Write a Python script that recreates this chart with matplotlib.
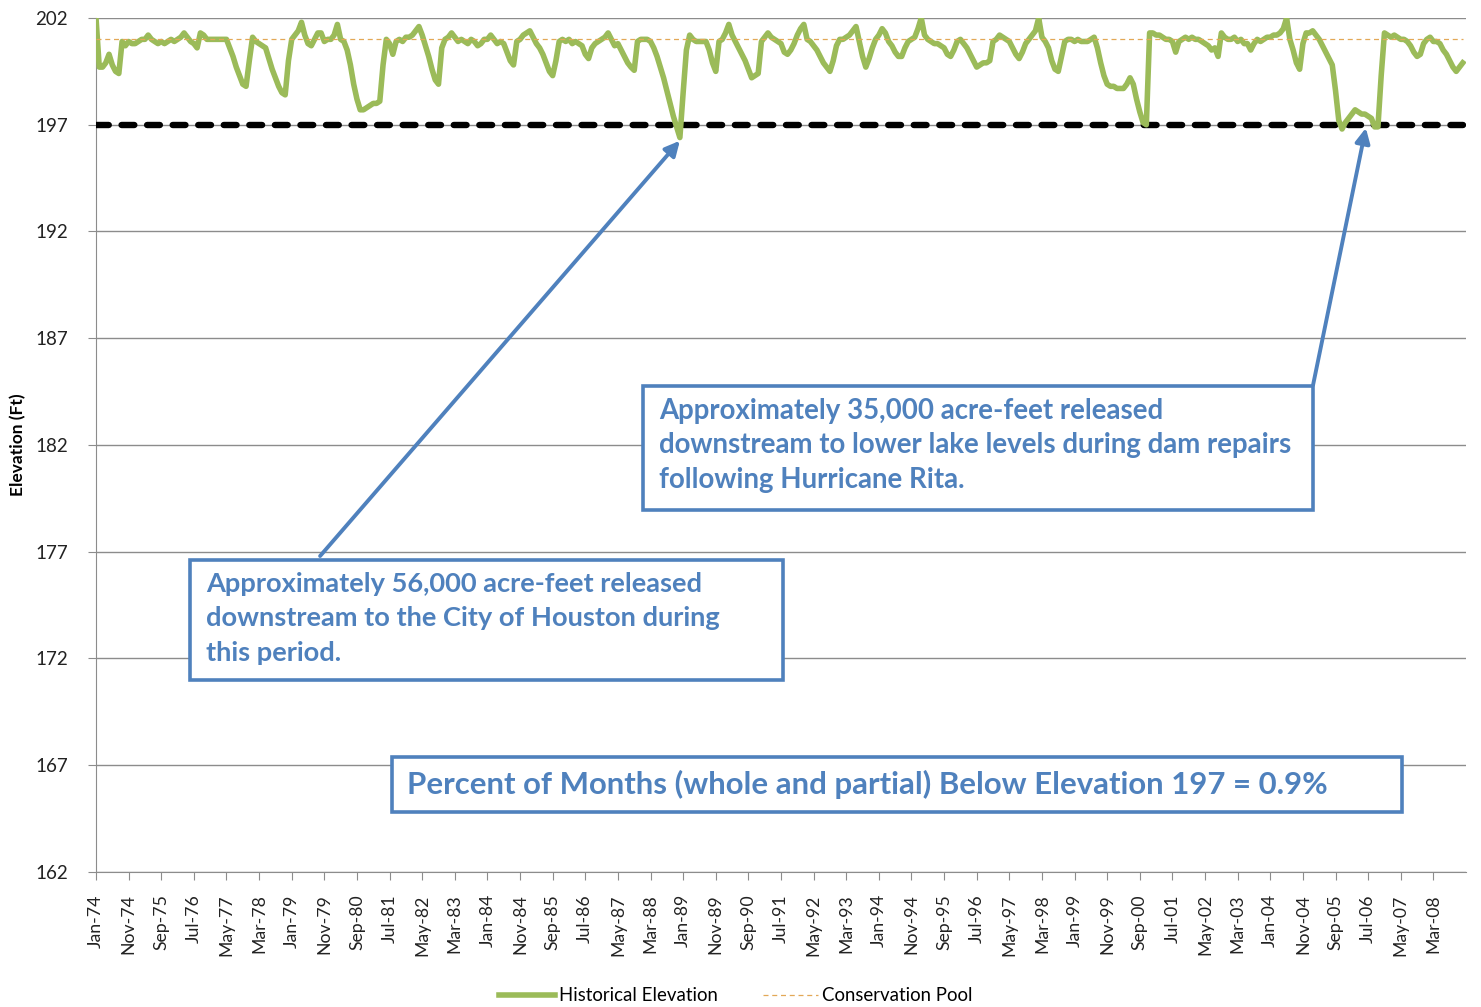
import matplotlib
matplotlib.use("Agg")
import matplotlib.pyplot as plt
from matplotlib.patches import Rectangle

# ---------------- data ----------------
elev_1974_1980 = [
    202.0, 199.7, 199.7, 199.9, 200.3, 199.8, 199.5, 199.4, 200.9, 200.7, 200.9, 200.8,
    200.8, 200.9, 201.0, 201.0, 201.2, 201.0, 200.9, 200.8, 200.9, 200.8, 200.9, 201.0,
    200.9, 201.0, 201.1, 201.3, 201.1, 200.9, 200.8, 200.6, 201.3, 201.2, 201.0, 201.0,
    201.0, 201.0, 201.0, 201.0, 201.0, 200.6, 200.2, 199.7, 199.3, 198.9, 198.8, 200.0,
    201.1, 200.9, 200.8, 200.7, 200.6, 200.1, 199.6, 199.2, 198.8, 198.5, 198.4, 200.0,
    201.0, 201.2, 201.4, 201.8, 201.2, 200.8, 200.7, 201.0, 201.3, 201.3, 200.9, 201.0,
    201.0, 201.2, 201.7, 201.0, 200.9, 200.5, 199.8, 198.9, 198.2, 197.7, 197.7, 197.8,
]
elev_1981_1987 = [
    197.9, 198.0, 198.0, 198.1, 199.8, 201.0, 200.8, 200.3, 200.9, 201.0, 200.9, 201.1,
    201.1, 201.2, 201.4, 201.6, 201.2, 200.7, 200.2, 199.6, 199.1, 198.9, 200.6, 201.0,
    201.1, 201.3, 201.1, 200.9, 201.0, 200.9, 200.8, 201.0, 200.9, 200.7, 200.8, 201.0,
    201.0, 201.2, 201.0, 200.8, 200.9, 200.8, 200.4, 200.0, 199.8, 200.9, 201.0, 201.2,
    201.3, 201.4, 201.1, 200.8, 200.6, 200.3, 199.9, 199.5, 199.3, 200.0, 200.9, 201.0,
    200.9, 201.0, 200.8, 200.9, 200.8, 200.7, 200.3, 200.1, 200.6, 200.8, 200.9, 201.0,
    201.1, 201.3, 201.0, 200.7, 200.8, 200.5, 200.2, 199.9, 199.7, 199.55, 200.9, 201.0,
]
elev_1988_1994 = [
    201.0, 201.0, 200.9, 200.6, 200.2, 199.7, 199.2, 198.6, 198.0, 197.4, 196.9, 196.4,
    198.5, 200.5, 201.2, 201.0, 200.9, 200.9, 200.9, 200.9, 200.5, 199.9, 199.5, 200.9,
    201.0, 201.3, 201.7, 201.2, 200.9, 200.6, 200.3, 200.0, 199.6, 199.2, 199.3, 199.4,
    200.9, 201.1, 201.3, 201.1, 201.0, 200.9, 200.8, 200.4, 200.3, 200.5, 200.8, 201.2,
    201.5, 201.7, 201.0, 200.9, 200.7, 200.5, 200.2, 199.9, 199.7, 199.5, 200.0, 200.7,
    201.0, 201.0, 201.1, 201.2, 201.4, 201.6, 200.9, 200.2, 199.7, 200.1, 200.6, 201.0,
    201.2, 201.5, 201.3, 200.9, 200.7, 200.4, 200.2, 200.2, 200.6, 200.9, 201.0, 201.1,
]
elev_1995_2001 = [
    201.5, 202.0, 201.2, 201.0, 200.9, 200.8, 200.8, 200.7, 200.6, 200.3, 200.2, 200.5,
    200.9, 201.0, 200.8, 200.6, 200.3, 200.0, 199.7, 199.8, 199.9, 199.9, 200.0, 200.9,
    201.0, 201.2, 201.1, 201.0, 200.9, 200.6, 200.3, 200.1, 200.4, 200.8, 201.0, 201.2,
    201.4, 202.0, 201.1, 200.9, 200.6, 200.0, 199.6, 199.5, 200.2, 200.9, 201.0, 201.0,
    200.9, 201.0, 200.9, 200.9, 200.9, 201.0, 201.1, 200.6, 199.9, 199.3, 198.9, 198.8,
    198.8, 198.7, 198.7, 198.7, 198.9, 199.2, 198.9, 198.2, 197.6, 197.1, 197.0, 201.3,
    201.3, 201.2, 201.2, 201.1, 201.0, 201.0, 200.9, 200.4, 200.9, 201.0, 201.1, 201.0,
]
elev_2002_2008 = [
    201.1, 201.0, 201.0, 200.9, 200.8, 200.7, 200.5, 200.6, 200.2, 201.3, 201.1, 201.0,
    201.0, 201.1, 200.9, 201.0, 200.8, 200.8, 200.5, 200.8, 201.0, 200.9, 201.0, 201.1,
    201.1, 201.2, 201.2, 201.3, 201.5, 202.0, 201.0, 200.5, 199.9, 199.6, 200.8, 201.3,
    201.3, 201.4, 201.2, 201.0, 200.7, 200.4, 200.1, 199.8, 198.6, 197.2, 196.8, 197.1,
    197.3, 197.5, 197.7, 197.6, 197.5, 197.5, 197.4, 197.3, 196.9, 196.9, 199.3, 201.3,
    201.2, 201.1, 201.2, 201.1, 201.0, 201.0, 200.9, 200.7, 200.4, 200.2, 200.3, 200.8,
    201.0, 201.1, 200.9, 200.9, 200.8, 200.5, 200.3, 200.0, 199.7, 199.5, 199.7, 199.9,
]
historical_elevation = (elev_1974_1980 + elev_1981_1987 + elev_1988_1994
                        + elev_1995_2001 + elev_2002_2008)
conservation_pool = 201.0
threshold_elevation = 197.0

tick_labels = ["Jan-74", "Nov-74", "Sep-75", "Jul-76", "May-77", "Mar-78", "Jan-79",
               "Nov-79", "Sep-80", "Jul-81", "May-82", "Mar-83", "Jan-84", "Nov-84",
               "Sep-85", "Jul-86", "May-87", "Mar-88", "Jan-89", "Nov-89", "Sep-90",
               "Jul-91", "May-92", "Mar-93", "Jan-94", "Nov-94", "Sep-95", "Jul-96",
               "May-97", "Mar-98", "Jan-99", "Nov-99", "Sep-00", "Jul-01", "May-02",
               "Mar-03", "Jan-04", "Nov-04", "Sep-05", "Jul-06", "May-07", "Mar-08"]
y_ticks = [162, 167, 172, 177, 182, 187, 192, 197, 202]

note_56k = ["Approximately 56,000 acre-feet released",
            "downstream to the City of Houston during",
            "this period."]
note_35k = ["Approximately 35,000 acre-feet released",
            "downstream to lower lake levels during dam repairs",
            "following Hurricane Rita."]
note_pct = "Percent of Months (whole and partial) Below Elevation 197 = 0.9%"

# ---------------- plot ----------------
plt.rcParams['font.family'] = ['Lato', 'DejaVu Sans']

fig = plt.figure(figsize=(14.81, 10.07), dpi=100)
ax = fig.add_axes([96 / 1481, 1 - 872 / 1007, 1370 / 1481, 854 / 1007])

n = len(historical_elevation)
months = list(range(n))

green = '#9BBB59'
blue = '#4F81BD'

for y in y_ticks:
    ax.axhline(y, color='#8C8C8C', lw=1.0, zorder=1)

ax.plot(months, [threshold_elevation] * n, color='black', lw=4.6,
        dashes=(2.0, 2.0), dash_capstyle='round', zorder=3, label='_nolegend_')
ax.plot(months, historical_elevation, color=green, lw=4.0, zorder=4,
        label='Historical Elevation', solid_joinstyle='round')
ax.plot(months, [conservation_pool] * n, color='#E3A857', lw=0.9,
        dashes=(4, 3), zorder=5, label='Conservation Pool')

ax.set_xlim(0, 420)
ax.set_ylim(162, 202)
ax.set_yticks(y_ticks)
ax.set_yticklabels([str(v) for v in y_ticks], fontsize=13.5, color='#222222')
ax.set_xticks(list(range(0, 420, 10)))
ax.set_xticklabels(tick_labels, rotation=90, fontsize=12.7, color='#222222')
ax.tick_params(axis='both', direction='out', length=6, color='#8C8C8C')
ax.tick_params(axis='y', pad=14)
ax.tick_params(axis='x', pad=10)
for s in ['top', 'right']:
    ax.spines[s].set_visible(False)
for s in ['left', 'bottom']:
    ax.spines[s].set_color('#8C8C8C')
ax.set_ylabel('Elevation (Ft)', fontsize=12.5, fontweight='bold')
ax.yaxis.set_label_coords(-0.051, 0.5)

# annotation boxes
def box(x0, y0, x1, y1):
    ax.add_patch(Rectangle((x0, y0), x1 - x0, y1 - y0, transform=ax.transAxes,
                           fill=True, facecolor='white', edgecolor=blue, lw=2.6,
                           zorder=6))

box(0.0686, 0.2248, 0.5015, 0.3653)
for txt, yy in zip(note_56k, [0.3372, 0.2974, 0.2564]):
    ax.text(0.0803, yy, txt, transform=ax.transAxes, fontsize=19.6,
            fontweight='bold', color=blue, va='center', ha='left', zorder=7)

box(0.3993, 0.4239, 0.8883, 0.5691)
for txt, yy in zip(note_35k, [0.5398, 0.5000, 0.4590]):
    ax.text(0.4109, yy, txt, transform=ax.transAxes, fontsize=19.9,
            fontweight='bold', color=blue, va='center', ha='left', zorder=7)

box(0.2161, 0.0703, 0.9533, 0.1347)
ax.text(0.2270, 0.1030, note_pct, transform=ax.transAxes, fontsize=22.4,
        fontweight='bold', color=blue, va='center', ha='left', zorder=7)

# arrows
ax.annotate('', xy=(179, 196.25), xytext=(68.7, 176.8),
            arrowprops=dict(arrowstyle='-|>', color=blue, lw=2.8,
                            mutation_scale=22, shrinkA=0, shrinkB=0), zorder=8)
ax.annotate('', xy=(389.3, 196.85), xytext=(373.1, 184.8),
            arrowprops=dict(arrowstyle='-|>', color=blue, lw=2.8,
                            mutation_scale=22, shrinkA=0, shrinkB=0), zorder=8)

fig.legend(loc='center', bbox_to_anchor=(0.497, 0.011), ncol=2, frameon=False,
           fontsize=13.4, handlelength=3.0, handletextpad=0.2, columnspacing=2.4)

fig.savefig('out.png', dpi=100)
